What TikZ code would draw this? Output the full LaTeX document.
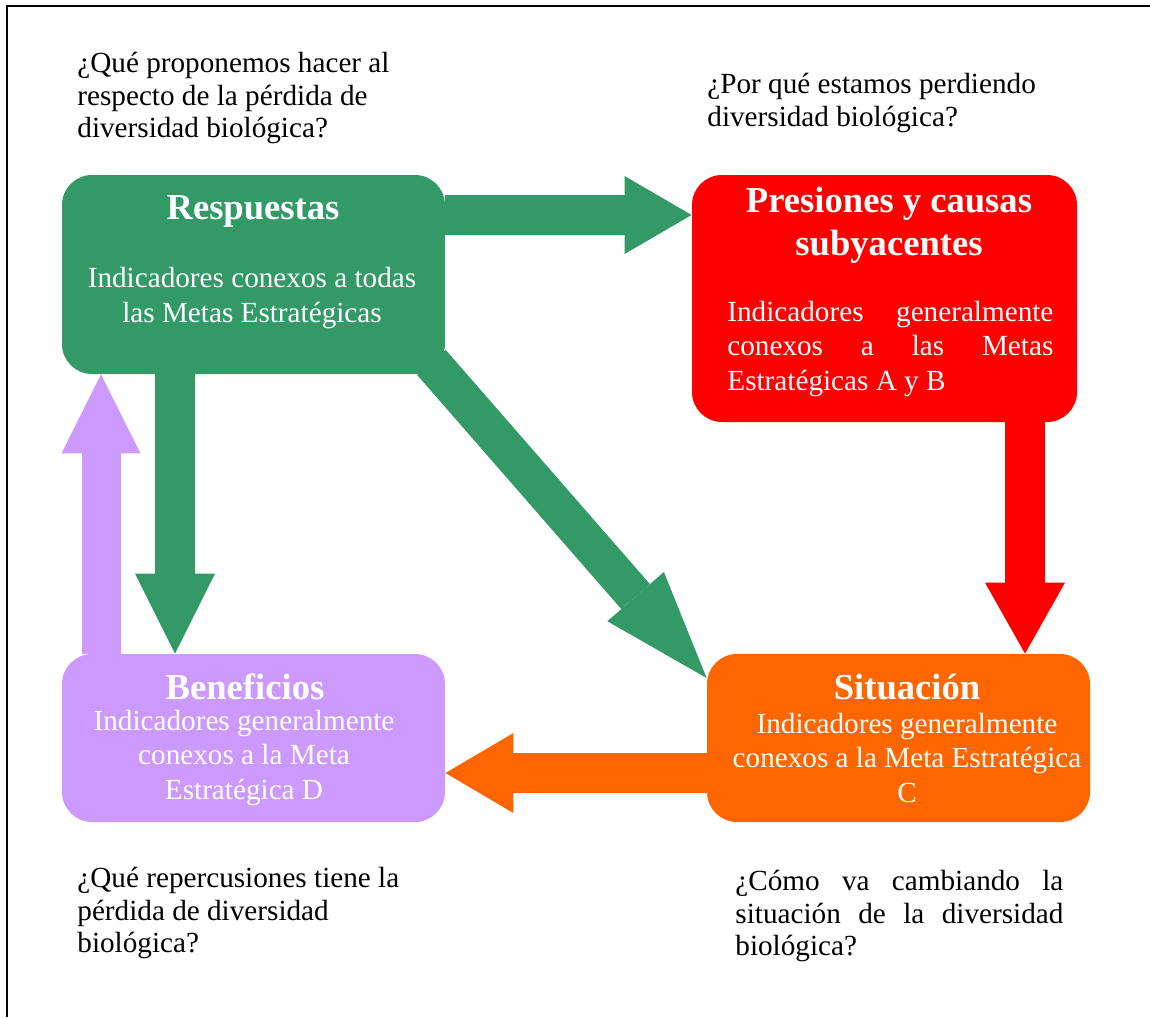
\documentclass[tikz,border=0pt]{standalone}
\usepackage{fontspec}
\setmainfont{Liberation Serif}
\usetikzlibrary{arrows.meta,calc}
\definecolor{cgreen}{RGB}{51,153,102}
\definecolor{cred}{RGB}{255,0,0}
\definecolor{corange}{RGB}{255,102,0}
\definecolor{cpurple}{RGB}{204,153,255}
\tikzset{
  boxnode/.style={rectangle, rounded corners=15pt, draw=none, inner sep=0pt},
  qtext/.style={text=black, font=\fontsize{14.6}{16.25}\selectfont, align=left, inner sep=0pt, anchor=west},
  btext/.style={text=white, font=\fontsize{14.6}{17.25}\selectfont, align=center, inner sep=0pt},
  ttext/.style={text=white, font=\bfseries\fontsize{18.3}{21.5}\selectfont, align=center, inner sep=0pt},
  blockarrow/.style={line width=20pt, draw=#1}
}
\begin{document}
\begin{tikzpicture}[x=0.5pt,y=-0.5pt]
\useasboundingbox (0,0) rectangle (1150,1017);
% frame
\draw[line width=1.2pt] (7,1017) -- (7,6) -- (1150,6);

% boxes
\node[boxnode, fill=cgreen,  minimum width=191.5pt, minimum height=99.5pt] (resp) at (253.5,274.5) {};
\node[boxnode, fill=cred,    minimum width=192.5pt, minimum height=123.5pt] (pres) at (884.5,298.5) {};
\node[boxnode, fill=corange, minimum width=191.5pt, minimum height=84pt] (sit) at (898.5,738) {};
\node[boxnode, fill=cpurple, minimum width=191.5pt, minimum height=84pt] (ben) at (253.5,738) {};

% helper coordinates
\coordinate (yA) at (0,215);
\coordinate (xB) at (175,0);
\coordinate (xP) at (101,0);
\coordinate (xR) at (1025,0);
\coordinate (yO) at (0,773);
\coordinate (yD) at (0,678);
\coordinate (dstart) at ($(resp.south east)+(-14,-12)$);

% arrows
\draw[blockarrow=cgreen, -{Triangle[length=33.5pt,width=39pt,line width=0pt]}] (resp.east |- yA) -- (pres.west |- yA);
\draw[blockarrow=cgreen, -{Triangle[length=40pt,width=40pt,line width=0pt]}] (xB |- resp.south) -- (xB |- ben.north);
\draw[blockarrow=cgreen, line width=19pt, -{Triangle[length=54pt,width=37.5pt,line width=0pt]}] (dstart) -- (sit.west |- yD);
\draw[blockarrow=cpurple, line width=19.5pt, -{Triangle[length=39.5pt,width=39.5pt,line width=0pt]}] (xP |- ben.north) -- (xP |- resp.south);
\draw[blockarrow=cred, -{Triangle[length=35.5pt,width=40pt,line width=0pt]}] (xR |- pres.south) -- (xR |- sit.north);
\draw[blockarrow=corange, -{Triangle[length=34pt,width=40pt,line width=0pt]}] (sit.west |- yO) -- (ben.east |- yO);

% box texts
\node[ttext] (respT) at (253,211) {Respuestas};
\node[btext] (respB) at (252,298) {Indicadores conexos a todas\\las Metas Estratégicas};

\node[ttext] (presT) at (889,225) {Presiones y causas\\subyacentes};
\node[btext, align=left, anchor=west] (presB) at (727,349) {\hbox to 163pt{Indicadores\hfill generalmente}\\\hbox to 163pt{conexos\hfill a\hfill las\hfill Metas}\\Estratégicas A y B};

\node[ttext] (sitT) at (907,687) {Situación};
\node[btext] (sitB) at (907,758) {Indicadores generalmente\\conexos a la Meta Estratégica\\C};

\node[ttext] (benT) at (245,687) {Beneficios};
\node[btext] (benB) at (244,758) {Indicadores generalmente\\conexos a la Meta\\Estratégica D};

% questions
\node[qtext] (q1) at (77,98) {¿Qué proponemos hacer al\\respecto de la pérdida de\\diversidad biológica?};
\node[qtext] (q2) at (707,103) {¿Por qué estamos perdiendo\\diversidad biológica?};
\node[qtext] (q3) at (77,913) {¿Qué repercusiones tiene la\\pérdida de diversidad\\biológica?};
\node[qtext] (q4) at (735,916) {\hbox to 164pt{¿Cómo\hfill va\hfill cambiando\hfill la}\\\hbox to 164pt{situación\hfill de\hfill la\hfill diversidad}\\biológica?};
\end{tikzpicture}
\end{document}
